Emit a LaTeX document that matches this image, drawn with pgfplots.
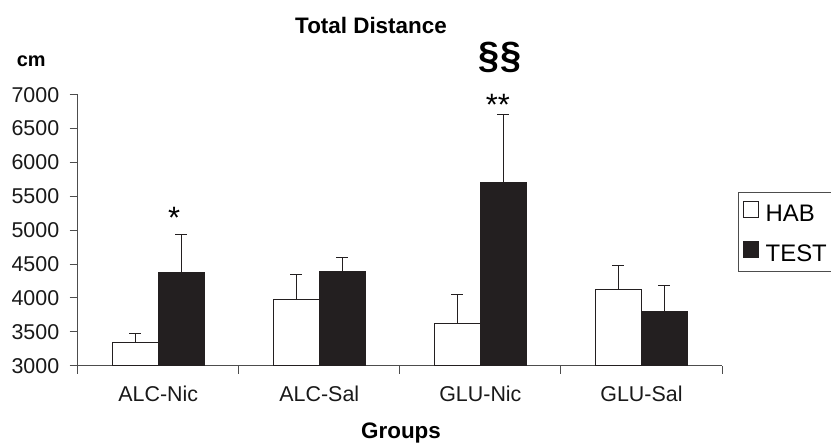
\documentclass[border=0pt]{standalone}
\usepackage{fontspec}
\setmainfont{Liberation Sans}
\usepackage{pgfplots}
\usepackage{pgfplotstable}
\pgfplotsset{compat=1.18}
\definecolor{barblack}{HTML}{231F20}
\definecolor{axisgray}{HTML}{4D4D4D}
\pgfplotstableread{
x hab habe test teste
0.5 3345 137 4378 565
1.5 3984 364 4397 206
2.5 3620 433 5699 1003
3.5 4121 364 3807 383
}\datatable
\begin{document}
\begin{tikzpicture}
\useasboundingbox (-77.7bp,-77.3bp) rectangle (753.3bp,365.7bp);
\begin{axis}[
  scale only axis, width=644.3bp, height=271bp,
  xmin=0, xmax=4, ymin=3000, ymax=7000,
  ybar=0pt, bar width=46bp,
  clip=false,
  axis x line*=bottom, axis y line*=left,
  axis line style={axisgray, line width=0.9bp},
  xtick={0,1,2,3,4}, x tick label as interval,
  xticklabels={ALC-Nic,ALC-Sal,GLU-Nic,GLU-Sal},
  ytick={3000,3500,...,7000},
  tick align=outside, major tick length=8bp,
  tick style={axisgray, line width=0.9bp},
  ticklabel style={font=\fontsize{21.5}{24}\selectfont, text=black!90},
  xticklabel style={yshift=-9bp},
  yticklabel style={xshift=-7bp},
  /pgf/number format/assume math mode=true,
  /pgf/number format/1000 sep={},
  legend style={at={(1.0253,0.642)}, anchor=north west, draw=axisgray, line width=0.8bp,
    font=\fontsize{24}{26}\selectfont, inner xsep=4bp, inner ysep=9bp, row sep=18.6bp,
    nodes={inner sep=1.5bp, text height=16bp, text depth=0bp},
    /tikz/every odd column/.style={column sep=5bp}},
  legend cell align=left,
  legend image code/.code={\draw[#1, line width=0.9bp] (0bp,-4bp) rectangle (15.6bp,11.6bp);},
]
\addplot+[fill=white, draw=barblack, line width=1bp, mark=none,
  error bars/.cd, y dir=plus, y explicit,
  error bar style={line width=1bp, barblack},
  error mark options={barblack, line width=1bp, mark size=6bp, rotate=90}]
  table[x=x, y=hab, y error=habe] {\datatable};
\addlegendentry{HAB}
\addplot+[fill=barblack, draw=barblack, line width=1bp, mark=none,
  error bars/.cd, y dir=plus, y explicit,
  error bar style={line width=1bp, barblack},
  error mark options={barblack, line width=1bp, mark size=6bp, rotate=90}]
  table[x=x, y=test, y error=teste] {\datatable};
\addlegendentry{TEST}
\node[anchor=base, font=\fontsize{31}{33}\selectfont, inner sep=0pt] at (axis cs:0.598,5020) {*};
\node[anchor=base, font=\fontsize{31}{33}\selectfont, inner sep=0pt] at (axis cs:2.609,6690) {**};
\node[anchor=base, font=\bfseries\fontsize{38}{40}\selectfont, inner sep=0pt] at (axis cs:2.622,7390) {§§};
\end{axis}
\node[anchor=base, font=\bfseries\fontsize{22.5}{24}\selectfont, inner sep=0pt] at (293.3bp,332.4bp) {Total Distance};
\node[anchor=base west, font=\bfseries\fontsize{20}{22}\selectfont, inner sep=0pt] at (-61bp,299bp) {cm};
\node[anchor=base, font=\bfseries\fontsize{22.5}{24}\selectfont, inner sep=0pt] at (323.3bp,-72.6bp) {Groups};
\end{tikzpicture}
\end{document}
